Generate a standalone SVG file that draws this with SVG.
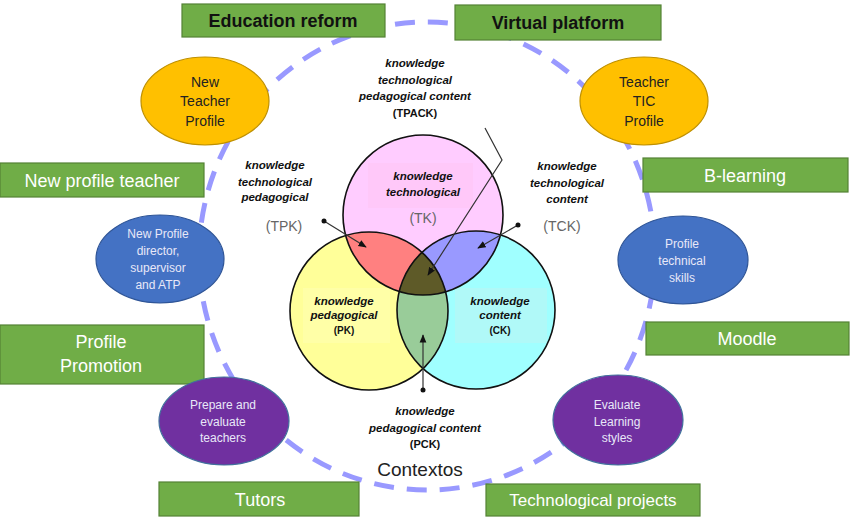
<svg xmlns="http://www.w3.org/2000/svg" width="850" height="527" viewBox="0 0 850 527">
<defs>
<style>
.gbox{fill:#70AD47;stroke:#548235;stroke-width:1.2}
.gtw{font-family:"Liberation Sans",Arial,sans-serif;font-size:18px;fill:#FFFFFF;text-anchor:middle}
.gtb{font-family:"Liberation Sans",Arial,sans-serif;font-size:18px;font-weight:bold;fill:#111111;text-anchor:middle}
.orange{fill:#FFC000;stroke:#BF9000;stroke-width:1.2}
.blue{fill:#4472C4;stroke:#2F5597;stroke-width:1.2}
.purple{fill:#7030A0;stroke:#41719C;stroke-width:1.2}
.et{font-family:"Liberation Sans",Arial,sans-serif;font-size:14px;fill:#222222;text-anchor:middle}
.ew{font-family:"Liberation Sans",Arial,sans-serif;font-size:12px;fill:#E8E8F8;text-anchor:middle}
.kl{font-family:"Liberation Sans",Arial,sans-serif;font-size:11.5px;font-weight:bold;font-style:italic;fill:#111111;text-anchor:middle}
.ks{font-family:"Liberation Sans",Arial,sans-serif;font-size:10px;font-weight:bold;fill:#111111;text-anchor:middle}
.gr{font-family:"Liberation Sans",Arial,sans-serif;font-size:14px;fill:#666666;text-anchor:middle}
.vo{fill:none;stroke:#111111;stroke-width:1.6}
.conn{fill:none;stroke:#333333;stroke-width:1.2}
</style>
<marker id="ah" viewBox="0 0 10 10" refX="9" refY="5" markerWidth="7" markerHeight="7" orient="auto">
<path d="M0,1 L10,5 L0,9 Z" fill="#111111"/>
</marker>
<clipPath id="cTK"><circle cx="423" cy="215" r="80"/></clipPath>
<clipPath id="cPK"><circle cx="369" cy="311" r="79"/></clipPath>
<clipPath id="cCK"><circle cx="476" cy="310" r="79"/></clipPath>
</defs>
<rect width="850" height="527" fill="#FFFFFF"/>

<g id="context-ring">
<ellipse cx="427" cy="256" rx="228" ry="234" fill="none" stroke="#9999FF" stroke-width="5" stroke-dasharray="20 13"/>
</g>

<g id="venn">
<circle cx="423" cy="215" r="80" fill="#FFCCFF"/>
<circle cx="369" cy="311" r="79" fill="#FFFF99"/>
<circle cx="476" cy="310" r="79" fill="#A0FFFF"/>
<circle cx="369" cy="311" r="79" fill="#FF8080" clip-path="url(#cTK)"/>
<circle cx="476" cy="310" r="79" fill="#9999FF" clip-path="url(#cTK)"/>
<circle cx="476" cy="310" r="79" fill="#99CC99" clip-path="url(#cPK)"/>
<g clip-path="url(#cTK)"><circle cx="476" cy="310" r="79" fill="#5E5A28" clip-path="url(#cPK)"/></g>
<rect x="368" y="163" width="105" height="45" fill="#FFC6F6" opacity="0.7"/>
<rect x="303" y="288" width="87" height="55" fill="#FFFFAA" opacity="0.8"/>
<rect x="455" y="288" width="92" height="55" fill="#B4F8F6" opacity="0.8"/>
<circle class="vo" cx="423" cy="215" r="80"/>
<circle class="vo" cx="369" cy="311" r="79"/>
<circle class="vo" cx="476" cy="310" r="79"/>
</g>

<g id="tk-label">
<text class="kl" x="423" y="180">knowledge</text>
<text class="kl" x="423" y="196">technological</text>
<text class="gr" x="423" y="223">(TK)</text>
</g>
<g id="pk-label">
<text class="kl" x="344" y="305">knowledge</text>
<text class="kl" x="344" y="319">pedagogical</text>
<text class="ks" x="344" y="334">(PK)</text>
</g>
<g id="ck-label">
<text class="kl" x="500" y="305">knowledge</text>
<text class="kl" x="500" y="319">content</text>
<text class="ks" x="500" y="334">(CK)</text>
</g>
<g id="tpack-label">
<text class="kl" x="415" y="67">knowledge</text>
<text class="kl" x="415" y="84">technological</text>
<text class="kl" x="415" y="100">pedagogical  content</text>
<text class="ks" x="415" y="117" style="font-size:11px">(TPACK)</text>
</g>
<g id="tpk-label">
<text class="kl" x="275" y="169">knowledge</text>
<text class="kl" x="275" y="186">technological</text>
<text class="kl" x="275" y="201">pedagogical</text>
<text class="gr" x="284" y="231">(TPK)</text>
</g>
<g id="tck-label">
<text class="kl" x="567" y="170">knowledge</text>
<text class="kl" x="567" y="187">technological</text>
<text class="kl" x="567" y="203">content</text>
<text class="gr" x="562" y="231">(TCK)</text>
</g>
<g id="pck-label">
<text class="kl" x="425" y="415">knowledge</text>
<text class="kl" x="425" y="432">pedagogical  content</text>
<text class="ks" x="425" y="448" style="font-size:11px">(PCK)</text>
</g>
<g id="contextos">
<text x="420" y="476" font-family="Liberation Sans, Arial, sans-serif" font-size="19" fill="#222222" text-anchor="middle">Contextos</text>
</g>

<g id="connectors">
<polyline class="conn" points="485,128 502,160 428,275" marker-end="url(#ah)"/>
<line class="conn" x1="324" y1="221" x2="366" y2="247" marker-end="url(#ah)"/>
<circle cx="324" cy="221" r="2.5" fill="#111111"/>
<line class="conn" x1="518" y1="225" x2="478" y2="248" marker-end="url(#ah)"/>
<circle cx="518" cy="225" r="2.5" fill="#111111"/>
<line class="conn" x1="423" y1="390" x2="423" y2="335" marker-end="url(#ah)"/>
<circle cx="423" cy="390" r="2.5" fill="#111111"/>
</g>

<g id="education-reform">
<rect class="gbox" x="182" y="4" width="203" height="33"/>
<text class="gtb" x="283" y="27">Education reform</text>
</g>
<g id="virtual-platform">
<rect class="gbox" x="455" y="5" width="206" height="35"/>
<text class="gtb" x="558" y="29">Virtual platform</text>
</g>
<g id="new-profile-teacher">
<rect class="gbox" x="0" y="163" width="204" height="34"/>
<text class="gtw" x="102" y="187">New profile teacher</text>
</g>
<g id="b-learning">
<rect class="gbox" x="643" y="158" width="205" height="34"/>
<text class="gtw" x="745" y="182">B-learning</text>
</g>
<g id="moodle">
<rect class="gbox" x="646" y="322" width="203" height="33"/>
<text class="gtw" x="747" y="345">Moodle</text>
</g>
<g id="profile-promotion">
<rect class="gbox" x="0" y="325" width="204" height="59"/>
<text class="gtw" x="101" y="348">Profile</text>
<text class="gtw" x="101" y="372">Promotion</text>
</g>
<g id="tutors">
<rect class="gbox" x="159" y="482" width="200" height="34"/>
<text class="gtw" x="260" y="506">Tutors</text>
</g>
<g id="technological-projects">
<rect class="gbox" x="486" y="484" width="214" height="32"/>
<text class="gtw" x="593" y="506" style="font-size:17px">Technological projects</text>
</g>

<g id="new-teacher-profile">
<ellipse class="orange" cx="205" cy="101" rx="64" ry="44"/>
<text class="et" x="205" y="87">New</text>
<text class="et" x="205" y="106">Teacher</text>
<text class="et" x="205" y="126">Profile</text>
</g>
<g id="teacher-tic-profile">
<ellipse class="orange" cx="644" cy="101" rx="64" ry="44"/>
<text class="et" x="644" y="87">Teacher</text>
<text class="et" x="644" y="106">TIC</text>
<text class="et" x="644" y="126">Profile</text>
</g>
<g id="new-profile-director">
<ellipse class="blue" cx="160" cy="259" rx="64" ry="44"/>
<text class="ew" x="158" y="238">New Profile</text>
<text class="ew" x="158" y="255">director,</text>
<text class="ew" x="158" y="272">supervisor</text>
<text class="ew" x="158" y="289">and ATP</text>
</g>
<g id="profile-technical-skills">
<ellipse class="blue" cx="683" cy="260" rx="65" ry="44"/>
<text class="ew" x="682" y="248">Profile</text>
<text class="ew" x="682" y="265">technical</text>
<text class="ew" x="682" y="282">skills</text>
</g>
<g id="prepare-evaluate">
<ellipse class="purple" cx="224" cy="421" rx="65" ry="44"/>
<text class="ew" x="223" y="409">Prepare and</text>
<text class="ew" x="223" y="426">evaluate</text>
<text class="ew" x="223" y="442">teachers</text>
</g>
<g id="evaluate-learning">
<ellipse class="purple" cx="618" cy="420" rx="65" ry="45"/>
<text class="ew" x="617" y="409">Evaluate</text>
<text class="ew" x="617" y="426">Learning</text>
<text class="ew" x="617" y="442">styles</text>
</g>
</svg>
